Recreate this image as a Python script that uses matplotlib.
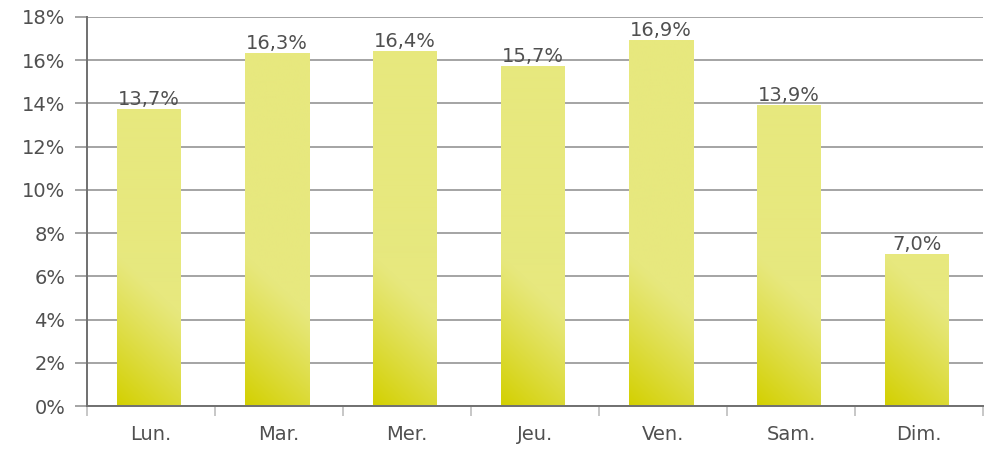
import numpy as np
import matplotlib
matplotlib.use("Agg")
import matplotlib.pyplot as plt
from matplotlib.colors import to_rgb

categories = ["Lun.", "Mar.", "Mer.", "Jeu.", "Ven.", "Sam.", "Dim."]
values = [13.7, 16.3, 16.4, 15.7, 16.9, 13.9, 7.0]
yticks = [0, 2, 4, 6, 8, 10, 12, 14, 16, 18]

fig = plt.figure(figsize=(9.89, 4.51), dpi=100)
ax = fig.add_axes([87/989, 1-406/451, 896/989, 389/451])

light = np.array(to_rgb("#e7e87e"))
dark = np.array(to_rgb("#d3d000"))
px_per_unit = 389/18.0
bar_w = 0.5
bar_px = bar_w*896/7
shift = -0.015

txtcol = "#505050"
fs = 14

for i, v in enumerate(values):
    x0, x1 = i - bar_w/2 + shift, i + bar_w/2 + shift
    ny = max(int(v*px_per_unit), 2)
    nx = int(bar_px)
    yy = np.linspace(0, v*px_per_unit, ny)[:, None]
    xx = np.linspace(0, bar_px, nx)[None, :]
    t = np.clip(1 - (yy + xx*0.9)/150.0, 0, 1)**1.1
    img = light[None, None, :]*(1-t[..., None]) + dark[None, None, :]*t[..., None]
    ax.imshow(img, extent=(x0, x1, 0, v), origin="lower", aspect="auto",
              interpolation="bilinear", zorder=3)
    ax.text(i + shift, v + 0.02, f"{v:.1f}".replace(".", ",") + "%", ha="center", va="bottom",
            fontsize=fs, color=txtcol, zorder=4)

ax.set_xlim(-0.5, len(categories) - 0.5)
ax.set_ylim(0, 18)
ax.set_yticks(yticks)
ax.set_yticklabels([f"{t}%" for t in yticks], fontsize=fs, color=txtcol)
ax.yaxis.grid(True, color="#8c8c8c", linewidth=1.1, zorder=1)
ax.set_axisbelow(True)
ax.tick_params(axis="y", length=8.5, color="#8c8c8c", width=1.1, pad=7)

ax.set_xticks(np.arange(len(categories) + 1) - 0.5)
ax.set_xticklabels([])
ax.set_xticks(np.arange(len(categories)), minor=True)
ax.set_xticklabels(categories, minor=True, fontsize=fs, color=txtcol)
ax.tick_params(axis="x", which="major", length=7.5, color="#b8b8b8", width=1.1, direction="out")
ax.tick_params(axis="x", which="minor", length=0, pad=14)

for s in ["top", "right"]:
    ax.spines[s].set_visible(False)
for s in ["left", "bottom"]:
    ax.spines[s].set_color("#707070")
    ax.spines[s].set_linewidth(1.4)
    ax.spines[s].set_zorder(5)

fig.savefig("out.png", dpi=100)
